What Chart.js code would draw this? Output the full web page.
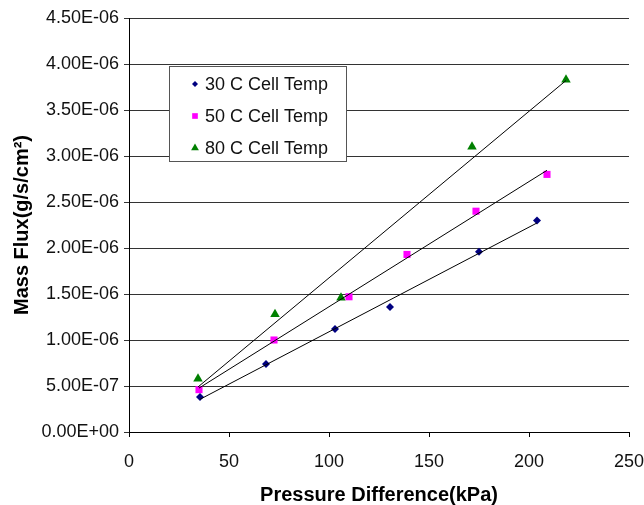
<!DOCTYPE html>
<html>
<head>
<meta charset="utf-8">
<script src="https://cdn.jsdelivr.net/npm/chart.js@4.4.0/dist/chart.umd.min.js"></script>
<style>
  html, body { margin: 0; padding: 0; background: #fff; }
  #wrap { width: 644px; height: 505px; }
</style>
</head>
<body>
<div id="wrap"><canvas id="fluxChart" width="644" height="505"></canvas></div>
<script>
// pressure difference (kPa) and mass flux (g/s/cm2) per cell temperature
const x30 = [35.5, 68.5, 103, 130.5, 175, 204];
const y30 = [3.8e-7, 7.4e-7, 1.12e-6, 1.36e-6, 1.96e-6, 2.30e-6];
const x50 = [35, 72.5, 110, 139, 173.5, 209];
const y50 = [4.6e-7, 1.0e-6, 1.47e-6, 1.93e-6, 2.40e-6, 2.80e-6];
const x80 = [34.5, 73, 106, 171.5, 218.5];
const y80 = [5.8e-7, 1.28e-6, 1.46e-6, 3.10e-6, 3.83e-6];

const seriesNames = ['30 C Cell Temp', '50 C Cell Temp', '80 C Cell Temp'];
const xTicks = [0, 50, 100, 150, 200, 250];
const yTicks = [0, 5e-7, 1e-6, 1.5e-6, 2e-6, 2.5e-6, 3e-6, 3.5e-6, 4e-6, 4.5e-6];

const FONT = "'Liberation Sans', Arial, sans-serif";

function toPoints(xs, ys) {
  return xs.map((x, i) => ({ x: x, y: ys[i] }));
}

// least squares line over the range of the data
function trend(xs, ys) {
  const n = xs.length;
  const mx = xs.reduce((a, b) => a + b, 0) / n;
  const my = ys.reduce((a, b) => a + b, 0) / n;
  let sxy = 0, sxx = 0;
  for (let i = 0; i < n; i++) {
    sxy += (xs[i] - mx) * (ys[i] - my);
    sxx += (xs[i] - mx) * (xs[i] - mx);
  }
  const m = sxy / sxx;
  const b = my - m * mx;
  const x0 = Math.min(...xs), x1 = Math.max(...xs);
  return [{ x: x0, y: m * x0 + b }, { x: x1, y: m * x1 + b }];
}

function sciLabel(v) {
  let s = Number(v).toExponential(2).toUpperCase();
  return s.replace(/E([+-])(\d)$/, 'E$10$2');
}

const markers = [
  { style: 'rectRot', color: '#000080', radius: 4 },
  { style: 'rect', color: '#FF00FF', radius: 5 },
  { style: 'triangle', color: '#008000', radius: 5.5 }
];

function lineSet(pts) {
  return {
    type: 'line',
    data: pts,
    borderColor: '#000',
    borderWidth: 1,
    pointRadius: 0,
    showLine: true,
    fill: false
  };
}

function pointSet(label, pts, mk) {
  return {
    type: 'scatter',
    label: label,
    data: pts,
    pointStyle: mk.style,
    pointRadius: mk.radius,
    pointBackgroundColor: mk.color,
    pointBorderColor: mk.color,
    pointBorderWidth: 0,
    showLine: false
  };
}

// boxed legend drawn inside the plot
const boxLegend = {
  id: 'boxLegend',
  afterDraw(chart) {
    const ctx = chart.ctx;
    const left = 169.5, top = 66.5, w = 177, h = 95;
    ctx.save();
    ctx.fillStyle = '#fff';
    ctx.fillRect(left, top, w, h);
    ctx.strokeStyle = '#555';
    ctx.lineWidth = 1;
    ctx.strokeRect(left, top, w, h);
    ctx.font = '18px ' + FONT;
    ctx.textBaseline = 'middle';
    const rows = [84, 116, 148];
    seriesNames.forEach((name, i) => {
      const mk = markers[i];
      ctx.fillStyle = mk.color;
      ctx.strokeStyle = mk.color;
      Chart.helpers.drawPoint(ctx, { pointStyle: mk.style, radius: mk.radius - 1, borderWidth: 0 }, 195, rows[i]);
      ctx.fillStyle = '#111';
      ctx.fillText(name, 205, rows[i] + 1);
    });
    ctx.restore();
  }
};

new Chart(document.getElementById('fluxChart'), {
  data: {
    datasets: [
      lineSet(trend(x30, y30)),
      lineSet(trend(x50, y50)),
      lineSet(trend(x80, y80)),
      pointSet(seriesNames[0], toPoints(x30, y30), markers[0]),
      pointSet(seriesNames[1], toPoints(x50, y50), markers[1]),
      pointSet(seriesNames[2], toPoints(x80, y80), markers[2])
    ]
  },
  options: {
    responsive: false,
    animation: false,
    layout: { padding: { top: 18, right: 15, left: 0, bottom: 0 } },
    plugins: {
      legend: { display: false },
      tooltip: { enabled: false }
    },
    scales: {
      x: {
        type: 'linear',
        min: 0,
        max: 250,
        afterBuildTicks: (scale) => { scale.ticks = xTicks.map(v => ({ value: v })); },
        afterFit: (scale) => {
          scale.height = 73;
          scale.paddingLeft = 0;
          scale.paddingRight = 0;
        },
        grid: { drawOnChartArea: false, drawTicks: true, tickLength: 5, color: '#000' },
        border: { color: '#000', width: 1 },
        ticks: { color: '#111', font: { family: FONT, size: 18 }, padding: 14, maxRotation: 0 },
        title: {
          display: true,
          text: 'Pressure Difference(kPa)',
          color: '#000',
          font: { family: FONT, size: 20, weight: 'bold', lineHeight: 1 },
          padding: { top: 0, bottom: 0 }
        }
      },
      y: {
        type: 'linear',
        min: 0,
        max: 4.5e-6,
        afterBuildTicks: (scale) => { scale.ticks = yTicks.map(v => ({ value: v })); },
        afterFit: (scale) => {
          scale.width = 129;
          scale.paddingTop = 0;
          scale.paddingBottom = 0;
        },
        grid: { color: '#333', lineWidth: 1, drawTicks: true, tickLength: 5 },
        border: { color: '#000', width: 1 },
        ticks: {
          color: '#111',
          font: { family: FONT, size: 18 },
          padding: 5,
          callback: (v) => sciLabel(v)
        },
        title: {
          display: true,
          text: 'Mass Flux(g/s/cm²)',
          color: '#000',
          font: { family: FONT, size: 20, weight: 'bold', lineHeight: 1 },
          padding: { top: 12, bottom: 0 }
        }
      }
    }
  },
  plugins: [boxLegend]
});
</script>
</body>
</html>
